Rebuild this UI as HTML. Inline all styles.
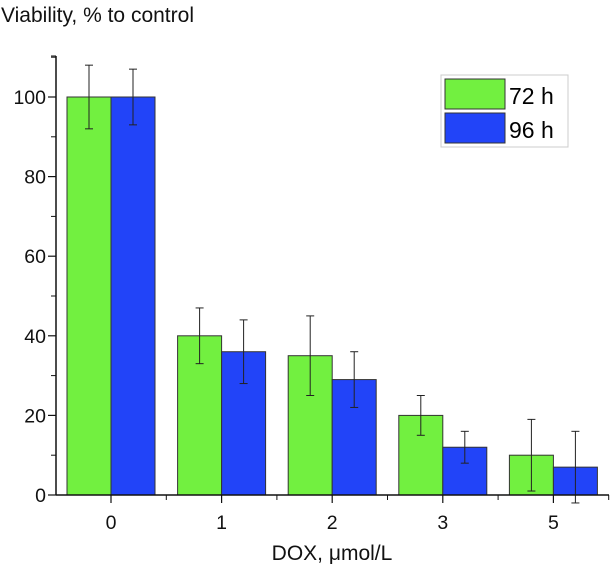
<!DOCTYPE html>
<html><head><meta charset="utf-8"><style>
body{margin:0;background:#fff}
svg{display:block;font-family:"Liberation Sans",Arial,sans-serif}
</style></head><body>
<svg id="chart" width="611" height="574">
<text x="1" y="22" font-size="21" fill="#111">Viability, % to control</text>
<text x="332" y="560" font-size="21" fill="#111" text-anchor="middle">DOX, μmol/L</text>
<g id="marks"></g>
<g id="axes"></g>
<g>
<rect x="441" y="75" width="127" height="72" fill="#fff" stroke="#ccc"/>
<rect x="445" y="79" width="60" height="30" fill="#72f040" stroke="#333"/>
<rect x="445" y="113" width="60" height="30" fill="#2244f8" stroke="#333"/>
<text x="509" y="104" font-size="23">72 h</text>
<text x="509" y="138" font-size="23">96 h</text>
</g>
</svg>
<script>
const categories=["0","1","2","3","5"];
const values72=[100,40,35,20,10];
const err72=[8,7,10,5,9];
const values96=[100,36,29,12,7];
const err96=[7,8,7,4,9];
const yTicks=[0,20,40,60,80,100];
const NS="http://www.w3.org/2000/svg";
const x0=56,y0=495,perUnit=3.98,step=110.6,first=111,bw=44;
const xc=i=>first+i*step;
const ys=v=>y0-v*perUnit;
const marks=document.getElementById('marks'),axes=document.getElementById('axes');
function mk(tag,attrs,parent){const e=document.createElementNS(NS,tag);for(const k in attrs)e.setAttribute(k,attrs[k]);parent.appendChild(e);return e;}
function series(vals,errs,color,off,name){
  vals.forEach((v,i)=>{
    const r=mk('rect',{x:xc(i)+off,y:ys(v),width:bw,height:y0-ys(v),fill:color,stroke:'#333','stroke-width':1},marks);
    
    
    const cx=xc(i)+off+bw/2,t=ys(v+errs[i]),b=ys(v-errs[i]);
    const g=mk('g',{stroke:'#222','stroke-width':1},marks);
    
    
    mk('line',{x1:cx,x2:cx,y1:t,y2:b},g);
    mk('line',{x1:cx-4,x2:cx+4,y1:t,y2:t},g);
    mk('line',{x1:cx-4,x2:cx+4,y1:b,y2:b},g);
  });
}
series(values72,err72,'#72f040',-bw,'72h');
series(values96,err96,'#2244f8',0,'96h');
const ya=mk('line',{x1:x0,x2:x0,y1:56,y2:y0,stroke:'#111','stroke-width':1.5},axes);


const xa=mk('line',{x1:x0,x2:609,y1:y0,y2:y0,stroke:'#111','stroke-width':1.5},axes);


mk('line',{x1:x0,x2:x0-5,y1:56,y2:56,stroke:'#111'},axes);
yTicks.forEach(v=>{
  mk('line',{x1:x0,x2:x0-8,y1:ys(v),y2:ys(v),stroke:'#111','stroke-width':1.2},axes);
  mk('line',{x1:x0,x2:x0-5,y1:ys(v+10),y2:ys(v+10),stroke:'#111'},axes);
  const t=mk('text',{x:x0-10,y:ys(v)+7,'font-size':19.5,'text-anchor':'end',fill:'#111'},axes);
  t.textContent=v;
  
  
});
categories.forEach((c,i)=>{
  mk('line',{x1:xc(i),x2:xc(i),y1:y0,y2:y0+8,stroke:'#111','stroke-width':1.2},axes);
  mk('line',{x1:xc(i)+step/2,x2:xc(i)+step/2,y1:y0,y2:y0+5,stroke:'#111'},axes);
  const t=mk('text',{x:xc(i),y:y0+34,'font-size':19.5,'text-anchor':'middle',fill:'#111'},axes);
  t.textContent=c;
  
  
});
</script>
</body></html>
